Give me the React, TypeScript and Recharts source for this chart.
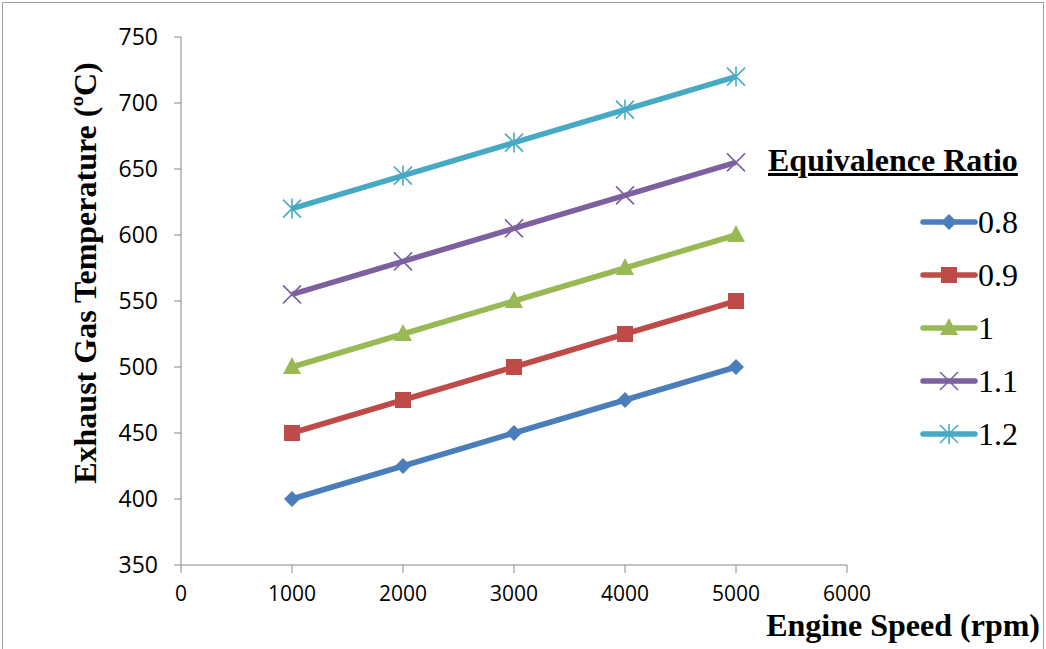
import React from 'react';
import { LineChart, Line, XAxis, YAxis } from 'recharts';

// Engine speed (rpm)
const speeds = [1000, 2000, 3000, 4000, 5000];

// Exhaust gas temperature (°C) per equivalence ratio
const phi08 = [400, 425, 450, 475, 500];
const phi09 = [450, 475, 500, 525, 550];
const phi10 = [500, 525, 550, 575, 600];
const phi11 = [555, 580, 605, 630, 655];
const phi12 = [620, 645, 670, 695, 720];

const xTicks = [0, 1000, 2000, 3000, 4000, 5000, 6000];
const yTicks = [350, 400, 450, 500, 550, 600, 650, 700, 750];

const data = speeds.map((s, i) => ({
    speed: s,
    p08: phi08[i],
    p09: phi09[i],
    p10: phi10[i],
    p11: phi11[i],
    p12: phi12[i]
}));

type Shape = 'diamond' | 'square' | 'triangle' | 'cross' | 'star';

const SERIES: { key: string; name: string; color: string; shape: Shape }[] = [
    { key: 'p08', name: '0.8', color: '#4a7ebb', shape: 'diamond' },
    { key: 'p09', name: '0.9', color: '#be4b48', shape: 'square' },
    { key: 'p10', name: '1', color: '#98b954', shape: 'triangle' },
    { key: 'p11', name: '1.1', color: '#7d60a0', shape: 'cross' },
    { key: 'p12', name: '1.2', color: '#46aac5', shape: 'star' }
];

const Marker = ({ shape, color, x, y }: { shape: Shape; color: string; x: number; y: number }) => {
    switch (shape) {
        case 'diamond':
            return <polygon points={`${x},${y - 8} ${x + 8},${y} ${x},${y + 8} ${x - 8},${y}`} fill={color} />;
        case 'square':
            return <rect x={x - 8} y={y - 8} width={16} height={16} fill={color} />;
        case 'triangle':
            return <polygon points={`${x},${y - 10} ${x + 9},${y + 7} ${x - 9},${y + 7}`} fill={color} />;
        case 'cross':
            return (
                <g stroke={color} strokeWidth={1.6}>
                    <line x1={x - 9} y1={y - 9} x2={x + 9} y2={y + 9} />
                    <line x1={x - 9} y1={y + 9} x2={x + 9} y2={y - 9} />
                </g>
            );
        case 'star':
            return (
                <g stroke={color} strokeWidth={1.6}>
                    <line x1={x - 9} y1={y - 9} x2={x + 9} y2={y + 9} />
                    <line x1={x - 9} y1={y + 9} x2={x + 9} y2={y - 9} />
                    <line x1={x} y1={y - 10} x2={x} y2={y + 10} />
                </g>
            );
    }
    return null;
};

const makeDot = (shape: Shape, color: string) => (props: any) => {
    const { cx, cy, index } = props;
    if (cx == null || cy == null) return <g key={index} />;
    return <Marker key={index} shape={shape} color={color} x={cx} y={cy} />;
};

const serif = '"Liberation Serif", "Times New Roman", serif';
const sans = '"Open Sans", sans-serif';

const LegendBox = () => (
    <div style={{ position: 'absolute', left: 768, top: 140, width: 278, height: 320, fontFamily: serif, color: '#000' }}>
        <div style={{
            position: 'absolute', left: 0, top: 0, fontWeight: 'bold', fontSize: 32,
            textDecoration: 'underline', whiteSpace: 'nowrap', lineHeight: '40px'
        }}>
            Equivalence Ratio
        </div>
        {SERIES.map((s, i) => (
            <div key={s.key} style={{
                position: 'absolute', left: 152, top: 62 + i * 53, height: 40,
                display: 'flex', alignItems: 'center'
            }}>
                <svg width={58} height={24}>
                    <line x1={3} y1={12} x2={55} y2={12} stroke={s.color} strokeWidth={5.5} strokeLinecap="round" />
                    <Marker shape={s.shape} color={s.color} x={29} y={12} />
                </svg>
                <span style={{ fontSize: 32, lineHeight: '40px' }}>{s.name}</span>
            </div>
        ))}
    </div>
);

export default function App() {
    return (
        <div style={{ position: 'absolute', left: 0, top: 0, width: 1046, height: 649, background: '#fff', overflow: 'hidden' }}>
            <LineChart width={1046} height={649} data={data}
                margin={{ top: 37, left: 121, right: 199, bottom: 44 }}>
                <XAxis
                    dataKey="speed"
                    type="number"
                    domain={[0, 6000]}
                    ticks={xTicks}
                    height={40}
                    stroke="#888"
                    tickSize={8}
                    tickMargin={13}
                    tick={{ fill: '#000', fontSize: 21, fontFamily: sans }}
                />
                <YAxis
                    type="number"
                    domain={[350, 750]}
                    ticks={yTicks}
                    width={60}
                    stroke="#888"
                    tickSize={7}
                    tickMargin={16}
                    tick={{ fill: '#000', fontSize: 23, fontFamily: sans }}
                />
                {SERIES.map(s => (
                    <Line
                        key={s.key}
                        dataKey={s.key}
                        name={s.name}
                        stroke={s.color}
                        strokeWidth={5.5}
                        dot={makeDot(s.shape, s.color)}
                        activeDot={false}
                        isAnimationActive={false}
                    />
                ))}
            </LineChart>
            <LegendBox />
            <div style={{
                position: 'absolute', left: 85, top: 273, transform: 'translate(-50%, -50%) rotate(-90deg)',
                whiteSpace: 'nowrap', fontFamily: serif, fontWeight: 'bold', fontSize: 32
            }}>
                Exhaust Gas Temperature (ºC)
            </div>
            <div style={{
                position: 'absolute', right: 6, top: 611, whiteSpace: 'nowrap', lineHeight: '28px',
                fontFamily: serif, fontWeight: 'bold', fontSize: 32
            }}>
                Engine Speed (rpm)
            </div>
            <div style={{
                position: 'absolute', left: 2, top: 2, width: 1040, height: 650,
                border: '1px solid #a0a0a0', pointerEvents: 'none'
            }} />
        </div>
    );
}
